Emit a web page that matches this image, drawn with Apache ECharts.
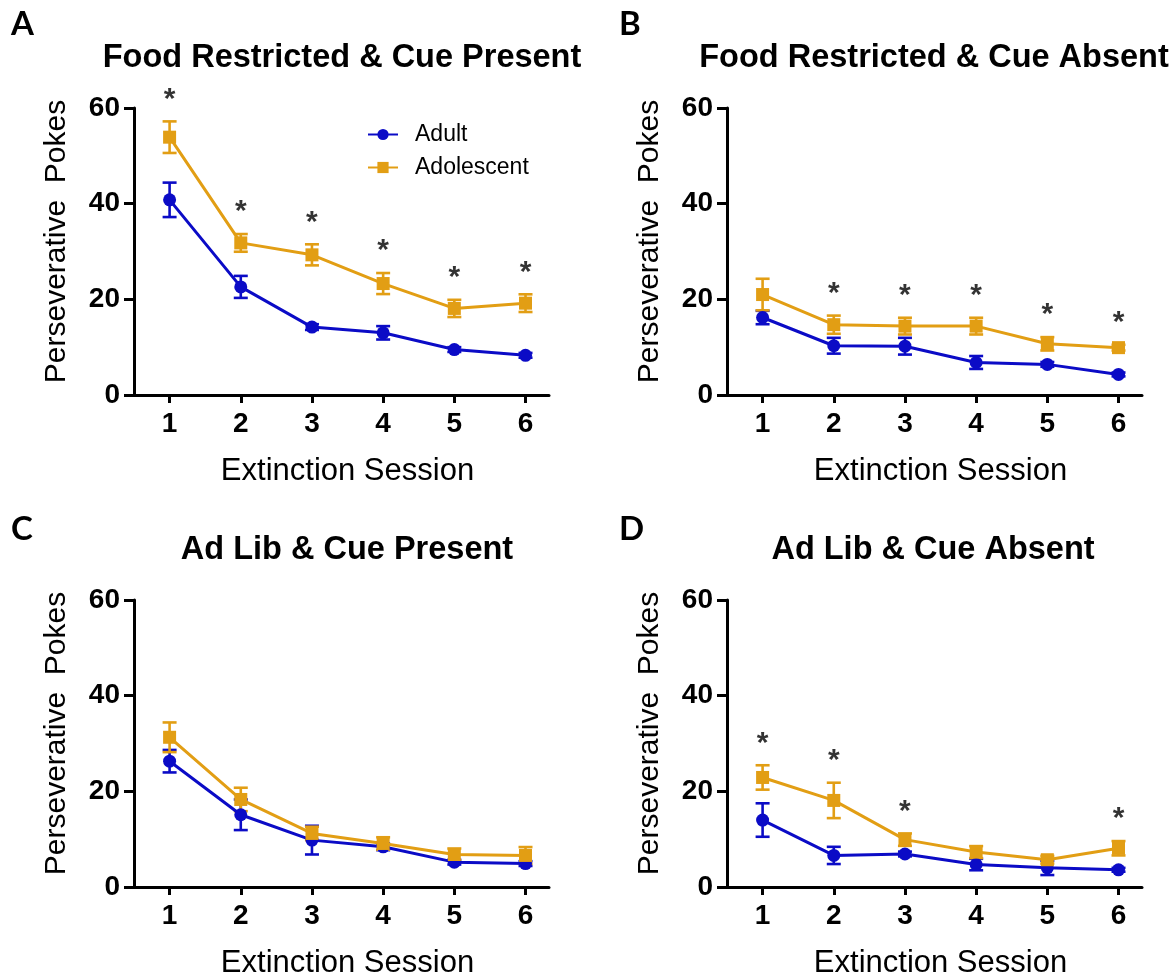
<!DOCTYPE html>
<html>
<head>
<meta charset="utf-8">
<script src="https://cdn.jsdelivr.net/npm/echarts@6/dist/echarts.min.js"></script>
<style>
html,body{margin:0;padding:0;background:#fff;}
#chart{width:1172px;height:980px;}
</style>
</head>
<body>
<div id="chart"></div>
<script>
// ---- Data ----
const sessions = [1, 2, 3, 4, 5, 6];
const seriesNames = ['Adult', 'Adolescent'];
const panelTitles = ['Food Restricted & Cue Present', 'Food Restricted & Cue Absent', 'Ad Lib & Cue Present', 'Ad Lib & Cue Absent'];
const panelLetters = ['A', 'B', 'C', 'D'];
const yTicks = [0, 20, 40, 60];

// Panel A: Food Restricted & Cue Present
const adultA = [40.8, 22.6, 14.2, 13.0, 9.5, 8.3];
const adultA_sem = [3.6, 2.3, 0.6, 1.4, 0.5, 0.5];
const adolA = [53.9, 31.8, 29.3, 23.3, 18.1, 19.2];
const adolA_sem = [3.3, 1.85, 2.2, 2.2, 1.8, 1.85];
const starsA = [1, 1, 1, 1, 1, 1];

// Panel B: Food Restricted & Cue Absent
const adultB = [16.2, 10.3, 10.2, 6.8, 6.4, 4.3];
const adultB_sem = [1.4, 1.65, 1.75, 1.35, 0.5, 0.4];
const adolB = [21.0, 14.7, 14.4, 14.4, 10.7, 9.9];
const adolB_sem = [3.3, 1.9, 1.75, 1.75, 1.4, 0.6];
const starsB = [0, 1, 1, 1, 1, 1];

// Panel C: Ad Lib & Cue Present
const adultC = [26.3, 15.1, 9.8, 8.4, 5.2, 4.9];
const adultC_sem = [2.35, 3.2, 3.0, 0.7, 0.5, 0.5];
const adolC = [31.3, 18.3, 11.2, 9.1, 6.8, 6.6];
const adolC_sem = [3.1, 2.45, 1.4, 1.3, 1.25, 1.75];
const starsC = [0, 0, 0, 0, 0, 0];

// Panel D: Ad Lib & Cue Absent
const adultD = [14.0, 6.6, 6.9, 4.7, 4.0, 3.6];
const adultD_sem = [3.5, 1.8, 0.5, 1.2, 1.5, 0.4];
const adolD = [22.9, 18.1, 9.9, 7.3, 5.7, 8.1];
const adolD_sem = [2.55, 3.7, 1.3, 1.25, 0.8, 1.5];
const starsD = [1, 1, 1, 0, 0, 1];

// ---- Build ----
const panels = [
  {adult: adultA, adultSem: adultA_sem, adol: adolA, adolSem: adolA_sem, stars: starsA},
  {adult: adultB, adultSem: adultB_sem, adol: adolB, adolSem: adolB_sem, stars: starsB},
  {adult: adultC, adultSem: adultC_sem, adol: adolC, adolSem: adolC_sem, stars: starsC},
  {adult: adultD, adultSem: adultD_sem, adol: adolD, adolSem: adolD_sem, stars: starsD}
];

const FONT = "'Liberation Sans', Arial, sans-serif";
const BLUE = '#0B0BC6';
const GOLD = '#E29E14';
const gridPos = [
  {left: 134, top: 108},
  {left: 727, top: 108},
  {left: 134, top: 600},
  {left: 727, top: 600}
];
const titleCenters = [337, 929, 342, 928];
const TITLE_SIZE = 32.5;
const GW = 415, GH = 287;

function errRender(params, api) {
  const x = api.value(0), lo = api.value(1), hi = api.value(2);
  const p1 = api.coord([x, hi]);
  const p2 = api.coord([x, lo]);
  const w = 7;
  const style = {stroke: api.visual('color'), lineWidth: 2.6};
  return {
    type: 'group',
    children: [
      {type: 'line', shape: {x1: p1[0], y1: p1[1], x2: p2[0], y2: p2[1]}, style: style},
      {type: 'line', shape: {x1: p1[0] - w, y1: p1[1], x2: p1[0] + w, y2: p1[1]}, style: style},
      {type: 'line', shape: {x1: p2[0] - w, y1: p2[1], x2: p2[0] + w, y2: p2[1]}, style: style}
    ]
  };
}

const grids = [], xAxes = [], yAxes = [], series = [], titles = [];

panels.forEach((p, i) => {
  grids.push({left: gridPos[i].left, top: gridPos[i].top, width: GW, height: GH, containLabel: false});
  xAxes.push({
    type: 'value', gridIndex: i, min: 0.5, max: 6.33,
    name: 'Extinction Session', nameLocation: 'middle', nameGap: 61,
    nameTextStyle: {fontFamily: FONT, fontSize: 31, color: '#000', padding: [0, 0, 0, 12]},
    axisLine: {show: true, onZero: false, lineStyle: {color: '#000', width: 3}},
    axisTick: {show: true, length: 8, lineStyle: {color: '#000', width: 3}, customValues: sessions},
    axisLabel: {show: true, customValues: sessions, fontFamily: FONT, fontWeight: 'bold', fontSize: 28, color: '#000', margin: 15},
    splitLine: {show: false}
  });
  yAxes.push({
    type: 'value', gridIndex: i, min: yTicks[0], max: yTicks[yTicks.length - 1], interval: yTicks[1] - yTicks[0],
    name: 'Perseverative  Pokes', nameLocation: 'middle', nameGap: 62,
    nameTextStyle: {fontFamily: FONT, fontSize: 30, color: '#000', padding: [0, 0, 0, 20]},
    axisLine: {show: true, lineStyle: {color: '#000', width: 3}},
    axisTick: {show: true, length: 10, lineStyle: {color: '#000', width: 3}},
    axisLabel: {fontFamily: FONT, fontWeight: 'bold', fontSize: 28, color: '#000', margin: 14},
    splitLine: {show: false}
  });

  titles.push({
    text: panelTitles[i], left: titleCenters[i], top: gridPos[i].top - 52 - TITLE_SIZE * 0.6, textAlign: 'center',
    textStyle: {fontFamily: FONT, fontWeight: 'bold', fontSize: TITLE_SIZE, color: '#000'}
  });
  titles.push({
    text: panelLetters[i], left: (i % 2 === 0) ? 6 : 614, top: (i < 2) ? 3 : 508,
    textStyle: {fontFamily: 'Lato, Open Sans, sans-serif', fontWeight: 'bold', fontSize: 33, color: '#000'}
  });

  // error bars
  series.push({
    type: 'custom', name: 'Adult err', xAxisIndex: i, yAxisIndex: i,
    renderItem: errRender, itemStyle: {color: BLUE}, z: 3, silent: true,
    encode: {x: 0, y: [1, 2]},
    data: sessions.map((s, k) => [s, p.adult[k] - p.adultSem[k], p.adult[k] + p.adultSem[k]])
  });
  series.push({
    type: 'custom', name: 'Adolescent err', xAxisIndex: i, yAxisIndex: i,
    renderItem: errRender, itemStyle: {color: GOLD}, z: 3, silent: true,
    encode: {x: 0, y: [1, 2]},
    data: sessions.map((s, k) => [s, p.adol[k] - p.adolSem[k], p.adol[k] + p.adolSem[k]])
  });
  // lines
  series.push({
    type: 'line', name: 'Adult', xAxisIndex: i, yAxisIndex: i,
    symbol: 'circle', symbolSize: 13, z: 4,
    lineStyle: {color: BLUE, width: 3}, itemStyle: {color: BLUE},
    data: sessions.map((s, k) => [s, p.adult[k]])
  });
  series.push({
    type: 'line', name: 'Adolescent', xAxisIndex: i, yAxisIndex: i,
    symbol: 'rect', symbolSize: 13, z: 5,
    lineStyle: {color: GOLD, width: 3}, itemStyle: {color: GOLD},
    data: sessions.map((s, k) => [s, p.adol[k]])
  });
  // significance asterisks
  series.push({
    type: 'scatter', name: 'sig', xAxisIndex: i, yAxisIndex: i,
    symbolSize: 0, silent: true, z: 6,
    label: {show: true, formatter: '*', position: 'top', distance: 7,
      fontFamily: FONT, fontWeight: 'bold', fontSize: 30, color: '#000'},
    data: sessions.filter((s, k) => p.stars[k]).map(s => {
      const k = sessions.indexOf(s);
      return [s, p.adol[k] + p.adolSem[k]];
    })
  });
});

const chart = echarts.init(document.getElementById('chart'), null, {renderer: 'canvas'});
chart.setOption({
  animation: false,
  backgroundColor: '#fff',
  title: titles,
  legend: {
    data: seriesNames, orient: 'vertical', left: 362, top: 118,
    itemWidth: 30, itemHeight: 14, itemGap: 10,
    textStyle: {fontFamily: FONT, fontSize: 23, color: '#000', padding: [0, 0, 0, 12]}
  },
  grid: grids,
  xAxis: xAxes,
  yAxis: yAxes,
  series: series
});
</script>
</body>
</html>
